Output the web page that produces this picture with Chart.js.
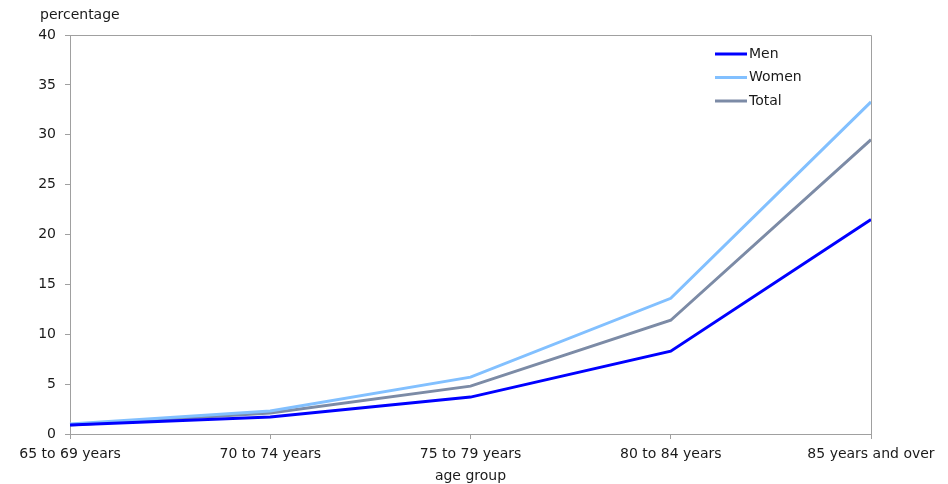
<!DOCTYPE html>
<html>
<head>
<meta charset="utf-8">
<script src="https://cdn.jsdelivr.net/npm/chart.js@4/dist/chart.umd.min.js"></script>
<style>
  html, body { margin: 0; padding: 0; background: #fff; }
  #wrap { width: 948px; height: 484px; position: relative; }
</style>
</head>
<body>
<div id="wrap"><canvas id="chart"></canvas></div>
<script>
// age groups on the x axis
const ageGroups = ['65 to 69 years', '70 to 74 years', '75 to 79 years', '80 to 84 years', '85 years and over'];
// percentages
const menValues = [0.9, 1.7, 3.7, 8.3, 21.5];
const womenValues = [1.0, 2.3, 5.7, 13.6, 33.3];
const totalValues = [0.9, 2.1, 4.8, 11.4, 29.5];
const seriesNames = ['Men', 'Women', 'Total'];
const seriesColors = ['#0000ff', '#82c0ff', '#7c8ba6'];

const fontFamily = '"DejaVu Sans", Verdana, sans-serif';
const axisColor = '#a0a0a0';
const textColor = '#1a1a1a';

// draws the box lines, the axis titles and the legend inside the plot
const extrasPlugin = {
    id: 'extras',
    afterDraw(chart) {
        const ctx = chart.ctx;
        const area = chart.chartArea;
        ctx.save();
        ctx.strokeStyle = axisColor;
        ctx.lineWidth = 1;
        ctx.beginPath();
        ctx.moveTo(area.left, area.top + 0.5);
        ctx.lineTo(area.right + 0.5, area.top + 0.5);
        ctx.lineTo(area.right + 0.5, area.bottom);
        ctx.stroke();

        ctx.fillStyle = textColor;
        ctx.font = '14px ' + fontFamily;
        ctx.textBaseline = 'middle';
        ctx.textAlign = 'left';
        ctx.fillText('percentage', 40, 15);
        ctx.textAlign = 'center';
        ctx.fillText('age group', (area.left + area.right) / 2, 476);

        // legend
        ctx.textAlign = 'left';
        chart.data.datasets.forEach(function(ds, i) {
            const y = 54 + i * 23.5;
            ctx.strokeStyle = ds.borderColor;
            ctx.lineWidth = 3;
            ctx.beginPath();
            ctx.moveTo(715, y);
            ctx.lineTo(747, y);
            ctx.stroke();
            ctx.fillStyle = textColor;
            ctx.fillText(ds.label, 749, y);
        });
        ctx.restore();
    }
};

const ctx = document.getElementById('chart').getContext('2d');
new Chart(ctx, {
    type: 'line',
    data: {
        labels: ageGroups,
        datasets: [menValues, womenValues, totalValues].map(function(vals, i) {
            return {
                label: seriesNames[i],
                data: vals,
                borderColor: seriesColors[i],
                backgroundColor: seriesColors[i],
                borderWidth: 3,
                pointRadius: 0,
                tension: 0,
                fill: false
            };
        })
    },
    options: {
        responsive: true,
        maintainAspectRatio: false,
        animation: false,
        layout: { padding: { top: 35, right: 77, left: 0, bottom: 0 } },
        plugins: {
            legend: { display: false },
            tooltip: { enabled: false }
        },
        scales: {
            x: {
                offset: false,
                grid: {
                    drawOnChartArea: false,
                    drawTicks: true,
                    tickLength: 5,
                    color: axisColor
                },
                border: { color: axisColor },
                ticks: {
                    color: textColor,
                    font: { family: fontFamily, size: 14 },
                    padding: 7,
                    maxRotation: 0,
                    autoSkip: false
                },
                afterFit: function(scale) { scale.height = 50; }
            },
            y: {
                min: 0,
                max: 40,
                grid: {
                    drawOnChartArea: false,
                    drawTicks: true,
                    tickLength: 5,
                    color: axisColor
                },
                border: { color: axisColor },
                ticks: {
                    stepSize: 5,
                    color: textColor,
                    font: { family: fontFamily, size: 14 },
                    padding: 9
                },
                afterFit: function(scale) { scale.width = 70; }
            }
        }
    },
    plugins: [extrasPlugin]
});
</script>
</body>
</html>
